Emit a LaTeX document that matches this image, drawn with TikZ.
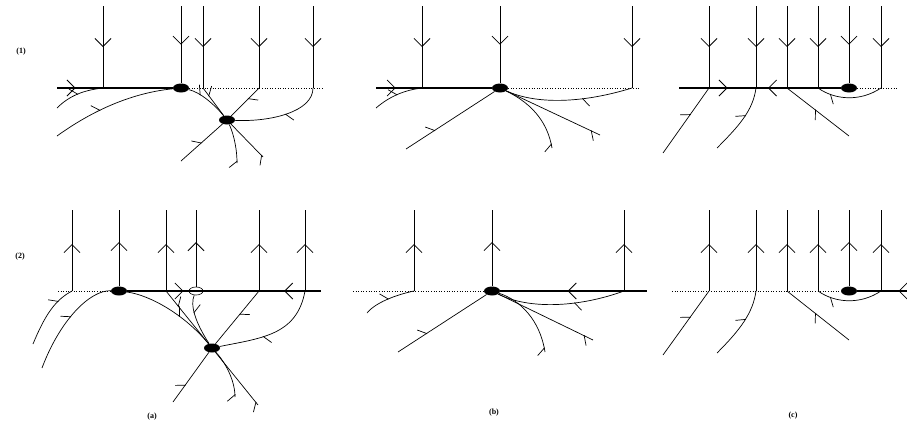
\documentclass[tikz,border=0pt]{standalone}
\usepackage{fontspec}
\setmainfont{Liberation Serif}
\usetikzlibrary{shapes.geometric,decorations.markings,arrows.meta}
\tikzset{
  vline/.style={line width=1pt},
  thk/.style={line width=2.4pt},
  curv/.style={line width=0.7pt},
  dotl/.style={dotted,line width=0.6pt},
  blob/.style={ellipse,fill=black,inner sep=0pt,minimum width=16pt,minimum height=9pt},
  ring/.style={ellipse,draw,line width=0.6pt,inner sep=0pt,minimum width=14pt,minimum height=8pt},
  lbl/.style={font=\fontsize{8}{9}\selectfont\bfseries,inner sep=0pt},
  va/.style={postaction={decorate,decoration={markings,mark=at position #1 with {\arrow{Straight Barb[length=8pt,width=16pt,line width=0.8pt]}}}}},
  vr/.style={postaction={decorate,decoration={markings,mark=at position #1 with {\arrowreversed{Straight Barb[length=8pt,width=16pt,line width=0.8pt]}}}}},
  ha/.style={postaction={decorate,decoration={markings,mark=at position #1 with {\arrow{Straight Barb[harpoon,length=6pt,width=16pt,line width=0.7pt]}}}}}
}
\begin{document}
\begin{tikzpicture}[x=1pt,y=-1pt]
\useasboundingbox (0,0) rectangle (907,426);
% labels
\node[lbl] (L1) at (21,52) {(1)};
\node[lbl] (L2) at (20,257) {(2)};
\node[lbl] (La) at (152,417) {(a)};
\node[lbl] (Lb) at (494,413) {(b)};
\node[lbl] (Lc) at (793,416) {(c)};

% ================= panel 1a
\node[blob] (A1) at (181,88) {};
\node[blob] (A2) at (227,120) {};
\foreach \x/\n in {103/p,181/q,203/r,259/s,313/t}{
  \coordinate (A\n t) at (\x,6);
  \coordinate (A\n b) at (\x,88);
}
\coordinate (Al) at (57,88);
\coordinate (Ar) at (322,88);
\coordinate (Ac1) at (57,108);
\coordinate (Ac2) at (57,136);
\coordinate (Ac3) at (181,161);
\coordinate (Ac4) at (237,163);
\coordinate (Ac5) at (263,157);
\draw[thk,va=0.16] (Al) -- (A1);
\draw[dotl] (A1) -- (Ar);
\draw[vline,va=0.5] (Apt) -- (Apb);
\draw[vline,va=0.5] (Aqt) -- (A1);
\draw[vline,va=0.5] (Art) -- (Arb);
\draw[vline,va=0.5] (Ast) -- (Asb);
\draw[vline,va=0.5] (Att) -- (Atb);
\draw[curv,ha=0.3] (Arb) -- (A2);
\draw[curv,ha=0.3] (A1) .. controls (200,92) and (215,105) .. (A2);
\draw[curv,ha=0.4] (Asb) -- (A2);
\draw[curv,ha=0.45] (Atb) .. controls (313,112) and (270,122) .. (A2);
\draw[curv,ha=0.5] (Ac1) .. controls (70,95) and (85,90) .. (Apb);
\draw[curv,ha=0.4] (Ac2) .. controls (100,105) and (140,92) .. (A1);
\draw[curv,ha=0.5] (Ac3) -- (A2);
\draw[curv,ha=0.06] (Ac4) .. controls (237,145) and (232,130) .. (A2);
\draw[curv,ha=0.06] (Ac5) -- (A2);

% ================= panel 1b
\node[blob] (B1) at (500,88) {};
\foreach \x/\n in {422/p,500/q,632/r}{
  \coordinate (B\n t) at (\x,6);
  \coordinate (B\n b) at (\x,88);
}
\coordinate (Bl) at (376,88);
\coordinate (Br) at (640,88);
\coordinate (Bc1) at (376,108);
\coordinate (Bc2) at (406,149);
\coordinate (Bc3) at (552,148);
\coordinate (Bc4) at (600,135);
\draw[thk,va=0.17] (Bl) -- (B1);
\draw[dotl] (B1) -- (Br);
\draw[vline,va=0.5] (Bpt) -- (Bpb);
\draw[vline,va=0.5] (Bqt) -- (B1);
\draw[vline,va=0.5] (Brt) -- (Brb);
\draw[curv,ha=0.5] (Bc1) .. controls (390,96) and (405,90) .. (Bpb);
\draw[curv,ha=0.33] (Bc2) -- (B1);
\draw[curv,ha=0.06] (Bc3) .. controls (548,125) and (535,105) .. (B1);
\draw[curv,ha=0.1] (Bc4) -- (B1);
\draw[curv,ha=0.4] (Brb) .. controls (580,104) and (535,104) .. (B1);

% ================= panel 1c
\node[blob] (C1) at (849,88) {};
\foreach \x/\n in {709/p,756/q,787/r,818/s,849/t,881/u}{
  \coordinate (C\n t) at (\x,6);
  \coordinate (C\n b) at (\x,88);
}
\coordinate (Cl) at (679,88);
\coordinate (Cr) at (897,88);
\coordinate (Cc1) at (663,153);
\coordinate (Cc2) at (717,148);
\coordinate (Cc3) at (849,136);
\draw[thk,va=0.3,vr=0.55] (Cl) -- (C1);
\draw[dotl] (C1) -- (Cr);
\draw[vline,va=0.5] (Cpt) -- (Cpb);
\draw[vline,va=0.5] (Cqt) -- (Cqb);
\draw[vline,va=0.5] (Crt) -- (Crb);
\draw[vline,va=0.5] (Cst) -- (Csb);
\draw[vline,va=0.5] (Ctt) -- (C1);
\draw[vline,va=0.5] (Cut) -- (Cub);
\draw[curv,ha=0.6] (Cc1) -- (Cpb);
\draw[curv,ha=0.6] (Cc2) .. controls (740,125) and (753,110) .. (Cqb);
\draw[curv,ha=0.55] (Cc3) -- (Crb);
\draw[curv,ha=0.8] (Cub) .. controls (860,102) and (835,100) .. (Csb);

% ================= panel 2a
\node[blob] (D1) at (119,291) {};
\node[blob] (D2) at (212,348) {};
\node[ring] (R) at (196,291) {};
\foreach \x/\n in {72/p,119/q,166/r,196/s,259/t,305/u}{
  \coordinate (D\n t) at (\x,210);
  \coordinate (D\n b) at (\x,291);
}
\coordinate (Dl) at (58,291);
\coordinate (Dr) at (321,291);
\coordinate (Dc1) at (33,344);
\coordinate (Dc2) at (42,368);
\coordinate (Dc3) at (173,402);
\coordinate (Dc4) at (235,397);
\coordinate (Dc5) at (258,405);
\draw[dotl] (Dl) -- (D1);
\draw[thk,va=0.29,vr=0.81] (D1) -- (Dr);
\draw[vline,va=0.58] (Dpb) -- (Dpt);
\draw[vline,va=0.58] (D1) -- (Dqt);
\draw[vline,va=0.58] (Drb) -- (Drt);
\draw[vline,va=0.58] (R) -- (Dst);
\draw[vline,va=0.58] (Dtb) -- (Dtt);
\draw[vline,va=0.58] (Dub) -- (Dut);
\draw[curv,ha=0.75] (Dc1) .. controls (45,315) and (55,300) .. (Dpb);
\draw[curv,ha=0.55] (Dc2) .. controls (60,320) and (90,290) .. (D1);
\draw[curv,ha=0.6] (D1) .. controls (150,295) and (185,315) .. (D2);
\draw[curv,ha=0.3] (Drb) -- (D2);
\draw[curv,ha=0.35] (R) .. controls (190,305) and (195,322) .. (D2);
\draw[curv,ha=0.45] (Dtb) -- (D2);
\draw[curv,ha=0.6] (Dub) .. controls (297,335) and (262,338) .. (D2);
\draw[curv,ha=0.35] (Dc3) -- (D2);
\draw[curv,ha=0.06] (Dc4) .. controls (235,380) and (225,362) .. (D2);
\draw[curv,ha=0.06] (Dc5) -- (D2);

% ================= panel 2b
\node[blob] (E1) at (492,291) {};
\foreach \x/\n in {414/p,492/q,624/r}{
  \coordinate (E\n t) at (\x,210);
  \coordinate (E\n b) at (\x,291);
}
\coordinate (El) at (353,291);
\coordinate (Er) at (647,291);
\coordinate (Ec1) at (367,313);
\coordinate (Ec2) at (398,352);
\coordinate (Ec3) at (545,352);
\coordinate (Ec4) at (593,340);
\draw[dotl] (El) -- (E1);
\draw[thk,vr=0.46] (E1) -- (Er);
\draw[vline,va=0.58] (Epb) -- (Ept);
\draw[vline,va=0.58] (E1) -- (Eqt);
\draw[vline,va=0.58] (Erb) -- (Ert);
\draw[curv,ha=0.5] (Ec1) .. controls (375,303) and (395,295) .. (Epb);
\draw[curv,ha=0.33] (Ec2) -- (E1);
\draw[curv,ha=0.06] (Ec3) .. controls (540,320) and (520,300) .. (E1);
\draw[curv,ha=0.1] (Ec4) -- (E1);
\draw[curv,ha=0.4] (Erb) .. controls (580,307) and (530,310) .. (E1);

% ================= panel 2c
\node[blob] (F1) at (849,291) {};
\foreach \x/\n in {709/p,756/q,787/r,818/s,849/t,881/u}{
  \coordinate (F\n t) at (\x,210);
  \coordinate (F\n b) at (\x,291);
}
\coordinate (Fl) at (672,291);
\coordinate (Fr) at (907,291);
\coordinate (Fc1) at (663,355);
\coordinate (Fc2) at (717,353);
\coordinate (Fc3) at (849,340);
\draw[dotl] (Fl) -- (F1);
\draw[thk,vr=0.83] (F1) -- (Fr);
\draw[vline,va=0.58] (Fpb) -- (Fpt);
\draw[vline,va=0.58] (Fqb) -- (Fqt);
\draw[vline,va=0.58] (Frb) -- (Frt);
\draw[vline,va=0.58] (Fsb) -- (Fst);
\draw[vline,va=0.58] (F1) -- (Ftt);
\draw[vline,va=0.58] (Fub) -- (Fut);
\draw[curv,ha=0.6] (Fc1) -- (Fpb);
\draw[curv,ha=0.6] (Fc2) .. controls (740,330) and (753,313) .. (Fqb);
\draw[curv,ha=0.55] (Fc3) -- (Frb);
\draw[curv,ha=0.8] (Fub) .. controls (860,305) and (835,303) .. (Fsb);
\end{tikzpicture}
\end{document}
